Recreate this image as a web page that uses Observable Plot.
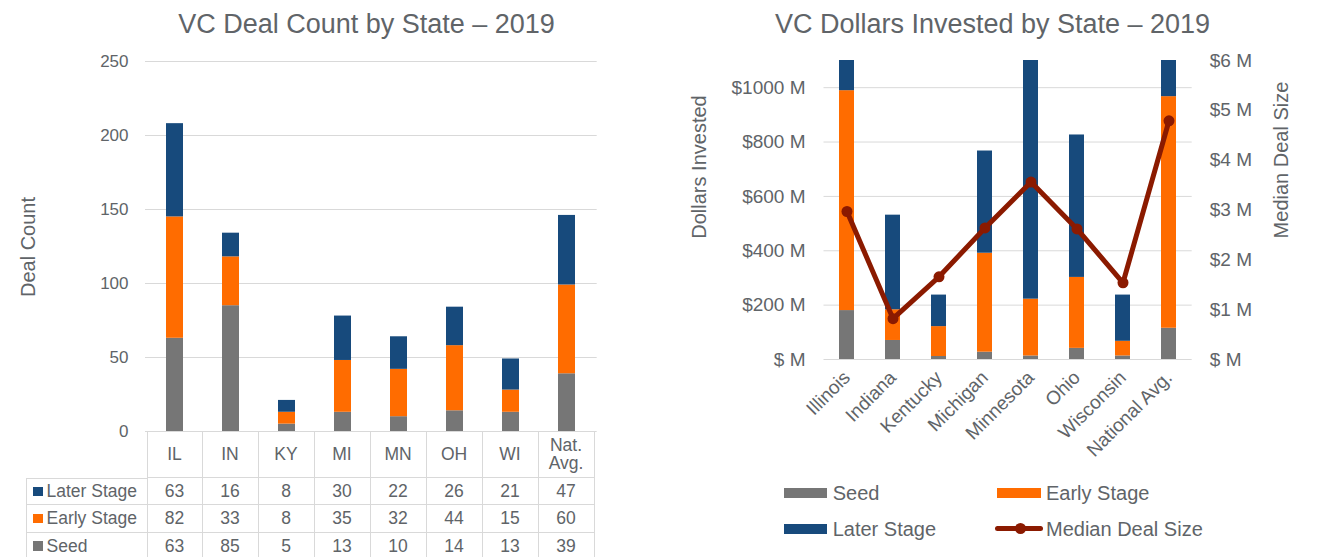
<!DOCTYPE html>
<html>
<head>
<meta charset="utf-8">
<script src="https://cdn.jsdelivr.net/npm/d3@7"></script>
<script src="https://cdn.jsdelivr.net/npm/@observablehq/plot@0.6"></script>
<style>
  body { margin: 0; background: #fff; }
  #root { position: relative; width: 1322px; height: 557px; overflow: hidden;
          font-family: "Liberation Sans", Arial, sans-serif; color: #606468; }
  .abs { position: absolute; white-space: nowrap; }
  .cell { position: absolute; box-sizing: border-box; display: flex; align-items: center;
          justify-content: center; text-align: center; font-size: 17.5px; line-height: 17px; }
  svg.plot { position: absolute; top: 0; }
</style>
</head>
<body>
<div id="root"></div>
<script>
// ---------- data ----------
const stateCodes = ["IL", "IN", "KY", "MI", "MN", "OH", "WI", "Nat. Avg."];
const stateNames = ["Illinois", "Indiana", "Kentucky", "Michigan", "Minnesota", "Ohio", "Wisconsin", "National Avg."];
const stages = ["Seed", "Early Stage", "Later Stage"];
const tableRows = ["Later Stage", "Early Stage", "Seed"];

const dealSeed  = [63, 85, 5, 13, 10, 14, 13, 39];
const dealEarly = [82, 33, 8, 35, 32, 44, 15, 60];
const dealLater = [63, 16, 8, 30, 22, 26, 21, 47];

// $ millions
const dollarsSeed  = [180, 70, 11, 27, 13, 41, 13, 115];
const dollarsEarly = [809, 113, 110, 364, 209, 261, 54, 852];
const dollarsLater = [900, 348, 116, 376, 1050, 524, 170, 600];
const medianDeal   = [2.97, 0.82, 1.66, 2.64, 3.56, 2.62, 1.54, 4.79];

const dealTicks   = [0, 50, 100, 150, 200, 250];
const dollarTicks = [0, 200, 400, 600, 800, 1000];
const medianTicks = [0, 1, 2, 3, 4, 5, 6];

const stageColors = ["#767676", "#FF6C00", "#174A7C"];
const lineColor = "#8B1A00";
const gridColor = "#d9d9d9";
const textColor = "#606468";
const FONT = '"Liberation Sans", Arial, sans-serif';

// ---------- derived tables ----------
const dealBy = {"Seed": dealSeed, "Early Stage": dealEarly, "Later Stage": dealLater};
const dealRows = stateCodes.flatMap((s, i) => stages.map(st => ({state: s, stage: st, value: dealBy[st][i]})));
const dollarBy = {"Seed": dollarsSeed, "Early Stage": dollarsEarly, "Later Stage": dollarsLater};
const dollarRows = stateNames.flatMap((s, i) => stages.map(st => ({state: s, stage: st, value: dollarBy[st][i]})));
const medianRows = stateNames.map((s, i) => ({state: s, value: medianDeal[i]}));

const root = document.getElementById("root");
function addDiv(cls, css, html) {
  const d = document.createElement("div");
  d.className = cls;
  Object.assign(d.style, css);
  d.innerHTML = html || "";
  root.appendChild(d);
  return d;
}

// ---------- left chart ----------
const leftPlot = Plot.plot({
  width: 610, height: 432,
  marginTop: 61, marginBottom: 1, marginLeft: 145, marginRight: 13.3,
  style: {fontFamily: FONT, fontSize: "17px", color: textColor, background: "transparent", overflow: "visible"},
  x: {type: "band", domain: stateCodes, paddingInner: 0.69, paddingOuter: 0.345, axis: null},
  y: {domain: [0, 250], axis: null},
  color: {domain: stages, range: stageColors},
  marks: [
    Plot.gridY(dealTicks, {stroke: gridColor, strokeOpacity: 1, strokeWidth: 1}),
    Plot.barY(dealRows, {x: "state", y: "value", fill: "stage", order: stages}),
    Plot.axisY(dealTicks, {tickSize: 0, tickPadding: 17, label: null, fill: textColor})
  ]
});
leftPlot.classList.add("plot");
leftPlot.style.left = "0px";
root.appendChild(leftPlot);

addDiv("abs", {left: "366.5px", top: "10.5px", fontSize: "27px", lineHeight: "27px", transform: "translateX(-50%)"},
  "VC Deal Count by State \u2013 2019");
addDiv("abs", {left: "28px", top: "246.5px", fontSize: "20px", lineHeight: "20px", transform: "translate(-50%,-50%) rotate(-90deg)"},
  "Deal Count");

// data table aligned to the x band scale
const xs = leftPlot.scale("x");
const ys = leftPlot.scale("y");
const step = xs.step, half = (xs.step - xs.bandwidth) / 2;
const tableTop = Math.round(ys.apply(0));
const headH = 47, rowH = [27, 28, 27];
const border = "1px solid " + gridColor;
stateCodes.forEach((code, j) => {
  const left = xs.apply(code) - half;
  const lbl = code.split(" ").join("<br>");
  const c = addDiv("cell", {left: left + "px", top: tableTop + "px", width: step + "px", height: headH + "px",
    borderRight: border, borderBottom: border, lineHeight: "18px"}, lbl);
  if (j === 0) c.style.borderLeft = border;
  let top = tableTop + headH;
  tableRows.forEach((r, k) => {
    const v = dealBy[r][j];
    const d = addDiv("cell", {left: left + "px", top: top + "px", width: step + "px", height: rowH[k] + "px",
      borderRight: border, borderBottom: border}, String(v));
    if (j === 0) d.style.borderLeft = border;
    top += rowH[k];
  });
});
{
  const x0 = xs.apply(stateCodes[0]) - half;
  let top = tableTop + headH;
  tableRows.forEach((r, k) => {
    const col = stageColors[stages.indexOf(r)];
    const d = addDiv("cell", {left: "26px", top: top + "px", width: (x0 - 26) + "px", height: rowH[k] + "px",
      borderLeft: border, borderBottom: border, borderTop: k === 0 ? border : "none", justifyContent: "flex-start", paddingLeft: "6px"},
      `<span style="display:inline-block;width:9.5px;height:9.5px;background:${col};margin-right:4px"></span>${r}`);
    top += rowH[k];
  });
}

// ---------- right chart ----------
const RW = 662, RH = 480;
const rightMargins = {marginTop: 60, marginBottom: 121, marginLeft: 163.5, marginRight: 130.3};
const rightX = {type: "band", domain: stateNames, paddingInner: 0.674, paddingOuter: 0.337};
const fmtM = d => d === 0 ? "$ M" : `$${d} M`;

const rightBars = Plot.plot({
  width: RW, height: RH, ...rightMargins,
  style: {fontFamily: FONT, fontSize: "19px", color: textColor, background: "transparent", overflow: "visible"},
  x: {...rightX, axis: null},
  y: {domain: [0, 1100], axis: null},
  color: {domain: stages, range: stageColors},
  marks: [
    Plot.gridY(dollarTicks, {stroke: gridColor, strokeOpacity: 1, strokeWidth: 1}),
    Plot.barY(dollarRows, {x: "state", y: "value", fill: "stage", order: stages, clip: true}),
    Plot.axisY(dollarTicks, {tickSize: 0, tickPadding: 18.5, tickFormat: fmtM, label: null, fill: textColor}),
    Plot.axisX({tickRotate: -45, tickSize: 0, tickPadding: 15, label: null, fill: textColor})
  ]
});
rightBars.classList.add("plot");
rightBars.style.left = "660px";
root.appendChild(rightBars);

const rightLine = Plot.plot({
  width: RW, height: RH, ...rightMargins,
  style: {fontFamily: FONT, fontSize: "19px", color: textColor, background: "transparent", overflow: "visible"},
  x: {...rightX, axis: null},
  y: {domain: [0, 6], axis: null},
  marks: [
    Plot.lineY(medianRows, {x: "state", y: "value", stroke: lineColor, strokeWidth: 5, strokeLinejoin: "round", strokeLinecap: "round"}),
    Plot.dot(medianRows, {x: "state", y: "value", r: 5.5, fill: lineColor, stroke: "none"}),
    Plot.axisY(medianTicks, {anchor: "right", tickSize: 0, tickPadding: 17.6, tickFormat: fmtM, label: null, fill: textColor})
  ]
});
rightLine.classList.add("plot");
rightLine.style.left = "660px";
root.appendChild(rightLine);

addDiv("abs", {left: "992.5px", top: "10.5px", fontSize: "27px", lineHeight: "27px", transform: "translateX(-50%)"},
  "VC Dollars Invested by State \u2013 2019");
addDiv("abs", {left: "699px", top: "166.7px", fontSize: "20px", lineHeight: "20px", transform: "translate(-50%,-50%) rotate(-90deg)"},
  "Dollars Invested");
addDiv("abs", {left: "1281px", top: "160px", fontSize: "20px", lineHeight: "20px", transform: "translate(-50%,-50%) rotate(-90deg)"},
  "Median Deal Size");

// ---------- legend ----------
const legendItems = [
  {label: "Seed", kind: "bar", color: stageColors[0], x: 784, y: 493},
  {label: "Early Stage", kind: "bar", color: stageColors[1], x: 997.3, y: 493},
  {label: "Later Stage", kind: "bar", color: stageColors[2], x: 784, y: 529},
  {label: "Median Deal Size", kind: "line", color: lineColor, x: 995, y: 528.5}
];
legendItems.forEach(it => {
  if (it.kind === "bar") {
    addDiv("abs", {left: it.x + "px", top: (it.y - 5.3) + "px", width: "43.3px", height: "10.5px", background: it.color});
  } else {
    addDiv("abs", {left: it.x + "px", top: (it.y - 2.5) + "px", width: "47.7px", height: "5px", background: it.color, borderRadius: "2.5px"});
    addDiv("abs", {left: (it.x + 25 - 5.5) + "px", top: (it.y - 5.5) + "px", width: "11px", height: "11px", background: it.color, borderRadius: "50%"});
  }
  addDiv("abs", {left: (it.x + (it.kind === "bar" ? 48.7 : 51) ) + "px", top: (it.y - 10) + "px", fontSize: "20px", lineHeight: "20px"}, it.label);
});
</script>
</body>
</html>
